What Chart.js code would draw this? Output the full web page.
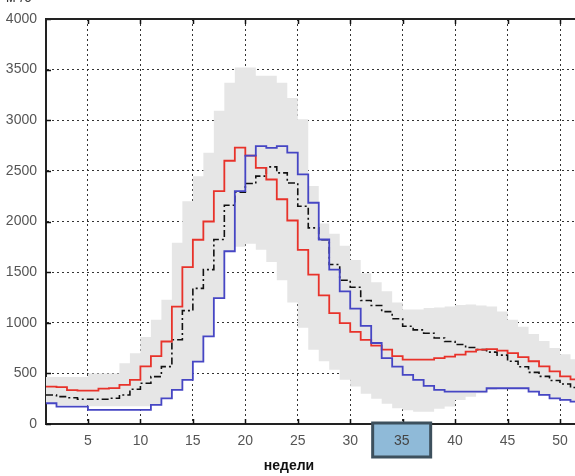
<!DOCTYPE html>
<html><head><meta charset="utf-8">
<script src="https://cdn.jsdelivr.net/npm/chart.js@4.4.0/dist/chart.umd.min.js"></script>
<style>
html,body{margin:0;padding:0;overflow:hidden;background:#fff;width:575px;height:476px}
#wrap{position:absolute;left:0;top:0;width:600px;height:476px}
</style>
</head><body><div id="wrap"><canvas id="c" width="600" height="476"></canvas></div>
<script>
const weeks = [1,2,3,4,5,6,7,8,9,10,11,12,13,14,15,16,17,18,19,20,21,22,23,24,25,26,27,28,29,30,31,32,33,34,35,36,37,38,39,40,41,42,43,44,45,46,47,48,49,50,51,52];
const redYear = [370,365,335,330,330,350,355,386,436,570,670,815,1160,1550,1820,2000,2300,2600,2730,2650,2530,2415,2220,2010,1720,1475,1270,1096,997,910,830,775,735,670,635,635,635,650,665,685,715,735,740,725,700,660,620,570,520,470,440,420];
const blueYear = [205,172,172,172,139,139,139,139,139,139,188,254,337,436,617,865,1244,1706,2300,2650,2745,2728,2745,2680,2465,2185,1822,1525,1310,1140,970,800,650,567,485,436,376,337,320,320,320,320,353,353,353,353,320,287,254,238,221,210];
const meanFlow = [287,270,260,245,244,244,254,287,343,403,468,567,832,1120,1340,1525,1822,2160,2290,2375,2448,2540,2480,2380,2150,1937,1820,1575,1420,1350,1220,1170,1110,1040,965,930,897,850,815,785,755,735,710,680,620,565,510,470,430,395,360,345];
const bandUpper = [465,465,465,465,500,500,500,600,700,860,1030,1228,1790,2200,2448,2680,3093,3370,3520,3520,3440,3440,3370,3220,3010,2350,1980,1880,1760,1620,1490,1400,1310,1200,1130,1130,1145,1150,1160,1175,1180,1170,1160,1110,1030,960,890,820,750,690,640,600];
const bandLower = [200,185,185,185,175,175,175,175,175,175,190,255,337,436,617,865,1244,1706,1750,1780,1720,1600,1420,1200,950,733,620,535,436,370,300,250,200,155,135,122,122,150,172,237,270,303,337,345,345,345,315,280,250,235,218,205];
const xTicks = [5,10,15,20,25,30,35,40,45,50];
const yTicks = [0,500,1000,1500,2000,2500,3000,3500,4000];
const xTitle = 'недели';
const yUnit = 'м³/с';
const highlightTick = 35;

const pts = arr => weeks.map((w,i)=>({x:w,y:arr[i]}));
const FONT = '"Liberation Sans", Arial, sans-serif';

const decor = {
  id:'decor',
  afterDatasetsDraw(chart){
    const {ctx, chartArea:a, scales:{x,y}} = chart;
    ctx.save();
    ctx.strokeStyle = '#111'; ctx.lineWidth = 1.5;
    ctx.beginPath();
    xTicks.forEach(v=>{const px=Math.round(x.getPixelForValue(v))+0.5;
      ctx.moveTo(px,a.bottom); ctx.lineTo(px,a.bottom-5);
      ctx.moveTo(px,a.top); ctx.lineTo(px,a.top+5);});
    yTicks.forEach(v=>{const py=Math.round(y.getPixelForValue(v))+0.5;
      ctx.moveTo(a.left,py); ctx.lineTo(a.left+5,py);});
    ctx.stroke();
    ctx.strokeStyle='#222'; ctx.lineWidth=2;
    ctx.beginPath(); ctx.moveTo(a.left,a.top); ctx.lineTo(a.right+20,a.top); ctx.stroke();
    ctx.restore();
  },
  afterDraw(chart){
    const {ctx, chartArea:a, scales:{x}} = chart;
    ctx.save();
    const cx = x.getPixelForValue(highlightTick);
    ctx.fillStyle='#8fbad8'; ctx.strokeStyle='#3d505d'; ctx.lineWidth=3;
    ctx.fillRect(cx-30,a.bottom-1,58,34);
    ctx.strokeRect(cx-30,a.bottom-1,58,34);
    ctx.fillStyle='#444'; ctx.font='14px '+FONT; ctx.textAlign='center'; ctx.textBaseline='middle';
    ctx.fillText(String(highlightTick),cx-1,a.bottom+17);
    ctx.fillStyle='#111'; ctx.font='bold 14px '+FONT;
    ctx.fillText(xTitle,289,466);
    ctx.font='14px '+FONT; ctx.textAlign='left'; ctx.textBaseline='alphabetic';
    ctx.fillStyle='#333';
    ctx.fillText(yUnit,6,2);
    ctx.restore();
  }
};

new Chart(document.getElementById('c'), {
  type:'line',
  data:{datasets:[
    {label:'max', data:pts(bandUpper), stepped:'before', borderWidth:0, pointRadius:0, fill:'+1', backgroundColor:'#e6e6e6', order:10},
    {label:'min', data:pts(bandLower), stepped:'before', borderWidth:0, pointRadius:0, fill:false, order:9},
    {label:'mean', data:pts(meanFlow), stepped:'before', borderColor:'#111', borderWidth:1.6, borderDash:[7,3,2,3], pointRadius:0, fill:false, order:3},
    {label:'red', data:pts(redYear), stepped:'before', borderColor:'#e8322a', borderWidth:1.8, pointRadius:0, fill:false, order:2},
    {label:'blue', data:pts(blueYear), stepped:'before', borderColor:'#4646c4', borderWidth:1.8, pointRadius:0, fill:false, order:1}
  ]},
  options:{
    responsive:false, animation:false, events:[],
    layout:{padding:{top:19,right:19,left:0,bottom:0}},
    plugins:{legend:{display:false},tooltip:{enabled:false}},
    scales:{
      x:{type:'linear', min:1, max:52,
        afterBuildTicks:s=>{s.ticks=xTicks.map(v=>({value:v}));},
        afterFit:s=>{s.height=52;},
        grid:{color:'#333', lineWidth:1, drawTicks:false, borderDash:[2,3]},
        border:{display:true, color:'#222', width:2, dash:[2,3]},
        ticks:{padding:9, color:'#555', font:{family:FONT,size:14}, maxRotation:0, autoSkip:false, callback:v=>String(v)}
      },
      y:{type:'linear', min:0, max:4000,
        afterBuildTicks:s=>{s.ticks=yTicks.map(v=>({value:v}));},
        afterFit:s=>{s.width=46;},
        grid:{color:'#333', lineWidth:1, drawTicks:false, borderDash:[2,3]},
        border:{display:true, color:'#222', width:2, dash:[2,3]},
        ticks:{padding:9, color:'#555', font:{family:FONT,size:14}, callback:v=>String(v)}
      }
    }
  },
  plugins:[decor]
});
</script></body></html>
